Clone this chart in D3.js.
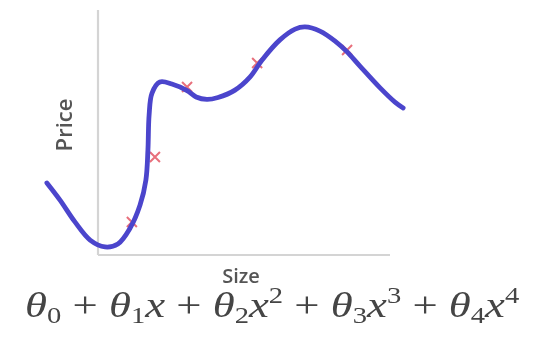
<!DOCTYPE html>
<html>
<head>
<meta charset="utf-8">
<script src="https://cdn.jsdelivr.net/npm/d3@7"></script>
<style>
  html, body { margin: 0; padding: 0; background: #fff; }
  svg { display: block; }
</style>
</head>
<body>
<div id="chart"></div>
<script>
'use strict';

// fitted curve (size, price) in axis units 0..100
const curveSize = [-17.5, -13, -7.9, -2.7, 2.4, 6.8, 11, 14.4, 16.4, 17.1, 17.5, 18.5, 21.2, 25.3,
  30.5, 33.6, 37.3, 41.1, 46.9, 52.1, 56.2, 62.3, 67.5, 70.9, 76, 81.2, 85.3, 89.7, 96.6, 101.7, 104.5];
const curvePrice = [29.4, 22.4, 13.5, 6.1, 3.3, 4.5, 11, 20.4, 30.6, 42.9, 57.1, 66.1, 70.6, 69.8,
  67.1, 64.5, 63.5, 64.3, 67.3, 72.7, 79.6, 87.8, 92.2, 93.1, 91.4, 87.3, 82.9, 77.1, 68.2, 62.4, 60];

// training examples (red crosses)
const pointSize = [11.6, 19.5, 30.5, 54.5, 85.3];
const pointPrice = [13.5, 40, 68.6, 78.4, 83.7];

const xLabel = 'Size';
const yLabel = 'Price';

// formula pieces: [main, subscript, variable, superscript]
const terms = [
  ['θ', '0', '', ''],
  ['θ', '1', 'x', ''],
  ['θ', '2', 'x', '2'],
  ['θ', '3', 'x', '3'],
  ['θ', '4', 'x', '4']
];

const width = 536, height = 342;

let svg = d3.select('#chart')
    .append('svg')
    .attr('width', width)
    .attr('height', height);

// slight blur, the reference is a soft screenshot
svg.append('defs')
    .append('filter')
    .attr('id', 'soft')
    .append('feGaussianBlur')
    .attr('stdDeviation', 0.7);

let g = svg.append('g').attr('filter', 'url(#soft)');

let x = d3.scaleLinear().domain([0, 100]).range([98, 390]);
let y = d3.scaleLinear().domain([0, 100]).range([255, 10]);

// axes: plain light lines, no ticks
g.append('line')
    .attr('x1', x(0)).attr('x2', x(0))
    .attr('y1', y(0)).attr('y2', y(100))
    .attr('stroke', '#d4d4d4')
    .attr('stroke-width', 2.2);

g.append('line')
    .attr('x1', x(0)).attr('x2', x(100))
    .attr('y1', y(0)).attr('y2', y(0))
    .attr('stroke', '#d4d4d4')
    .attr('stroke-width', 2.2);

// crosses under the line
let cross = 5;
pointSize.forEach(function(s, i) {
    let cx = x(s), cy = y(pointPrice[i]);
    g.append('path')
        .attr('d', 'M' + (cx - cross) + ',' + (cy - cross) + 'L' + (cx + cross) + ',' + (cy + cross) +
            'M' + (cx - cross) + ',' + (cy + cross) + 'L' + (cx + cross) + ',' + (cy - cross))
        .attr('stroke', '#e8707c')
        .attr('stroke-width', 2)
        .attr('fill', 'none');
});

let curveData = curveSize.map(function(s, i) { return [s, curvePrice[i]]; });

let line = d3.line()
    .x(function(d) { return x(d[0]); })
    .y(function(d) { return y(d[1]); })
    .curve(d3.curveCatmullRom.alpha(0.5));

g.append('path')
    .datum(curveData)
    .attr('d', line)
    .attr('fill', 'none')
    .attr('stroke', '#4b45cc')
    .attr('stroke-width', 4.8)
    .attr('stroke-linecap', 'round')
    .attr('stroke-linejoin', 'round');

// axis labels
g.append('text')
    .attr('x', 241)
    .attr('y', 283)
    .attr('text-anchor', 'middle')
    .attr('font-family', 'Open Sans, sans-serif')
    .attr('font-weight', 600)
    .attr('font-size', 20)
    .attr('fill', '#555')
    .text(xLabel);

g.append('text')
    .attr('transform', 'translate(72,125) rotate(-90)')
    .attr('text-anchor', 'middle')
    .attr('font-family', 'Open Sans, sans-serif')
    .attr('font-weight', 600)
    .attr('font-size', 22)
    .attr('fill', '#555')
    .text(yLabel);

// formula
let fs = 36, small = 23;
let base = 317;
let formula = g.append('text')
    .attr('x', 0)
    .attr('y', base)
    .attr('font-family', 'Liberation Serif, DejaVu Serif, serif')
    .attr('font-size', fs)
    .attr('fill', '#444');

terms.forEach(function(t, i) {
    if (i > 0) {
        formula.append('tspan')
            .attr('y', base)
            .attr('font-size', fs)
            .attr('font-style', 'normal')
            .text('\u2005+\u2005');
    }
    formula.append('tspan')
        .attr('y', base)
        .attr('font-size', fs)
        .attr('font-style', 'italic')
        .text(t[0]);
    formula.append('tspan')
        .attr('y', base + 6)
        .attr('font-size', small)
        .text(t[1]);
    if (t[2]) {
        formula.append('tspan')
            .attr('y', base)
            .attr('font-size', fs)
            .attr('font-style', 'italic')
            .text(t[2]);
    }
    if (t[3]) {
        formula.append('tspan')
            .attr('y', base - 14)
            .attr('font-size', small)
            .text(t[3]);
    }
});

// fit the formula horizontally to the width it has in the picture
let bb = formula.node().getBBox();
let k = 495 / bb.width;
formula.attr('transform', 'translate(' + (25 - bb.x * k) + ',0) scale(' + k + ',1)');
</script>
</body>
</html>
